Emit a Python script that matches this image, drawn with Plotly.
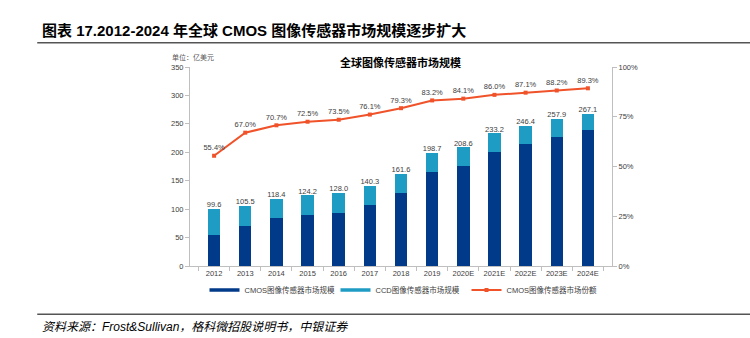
import plotly.graph_objects as go

years = ["2012", "2013", "2014", "2015", "2016", "2017", "2018", "2019",
         "2020E", "2021E", "2022E", "2023E", "2024E"]
cmos = [55.2, 70.7, 83.7, 90.0, 94.1, 106.8, 128.1, 165.3, 175.4, 200.6, 214.6, 227.5, 238.5]
ccd = [44.4, 34.8, 34.7, 34.2, 33.9, 33.5, 33.5, 33.4, 33.2, 32.6, 31.8, 30.4, 28.6]
totals = [99.6, 105.5, 118.4, 124.2, 128.0, 140.3, 161.6, 198.7, 208.6, 233.2, 246.4, 257.9, 267.1]
share = [55.4, 67.0, 70.7, 72.5, 73.5, 76.1, 79.3, 83.2, 84.1, 86.0, 87.1, 88.2, 89.3]
share_ticks = [0, 25, 50, 75, 100]

FONT = "Liberation Sans, Arial, Noto Sans CJK SC"
DARK = "#023A8A"
TEAL = "#1F9CC4"
ORANGE = "#F0522A"
TXT = "#404040"

fig = go.Figure()
fig.add_trace(go.Bar(x=years, y=cmos, name="CMOS图像传感器市场规模", showlegend=False,
                     marker=dict(color=DARK, line=dict(width=0)), width=0.4))
fig.add_trace(go.Bar(x=years, y=ccd, name="CCD图像传感器市场规模", showlegend=False,
                     marker=dict(color=TEAL, line=dict(width=0)), width=0.4))
fig.add_trace(go.Scatter(x=years, y=totals, mode="text",
                         text=[f"{v:.1f}" for v in totals], textposition="top center",
                         textfont=dict(size=7.5, color=TXT, family=FONT),
                         showlegend=False, hoverinfo="skip", cliponaxis=False))
fig.add_trace(go.Scatter(x=years, y=share, name="CMOS图像传感器市场份额", yaxis="y2",
                         mode="lines+markers+text", showlegend=False,
                         line=dict(color=ORANGE, width=2),
                         marker=dict(symbol="square", size=4, color=ORANGE),
                         text=[f"{v:.1f}%" for v in share], textposition="top center",
                         textfont=dict(size=7.5, color=TXT, family=FONT),
                         cliponaxis=False))
# legend entries
fig.add_trace(go.Scatter(x=[None], y=[None], mode="lines", name="CMOS图像传感器市场规模",
                         line=dict(color=DARK, width=3.5)))
fig.add_trace(go.Scatter(x=[None], y=[None], mode="lines", name="CCD图像传感器市场规模",
                         line=dict(color=TEAL, width=3.5)))
fig.add_trace(go.Scatter(x=[None], y=[None], mode="lines+markers", name="CMOS图像传感器市场份额",
                         line=dict(color=ORANGE, width=2),
                         marker=dict(symbol="square", size=4, color=ORANGE)))

fig.update_layout(
    width=750, height=338,
    margin=dict(l=190, r=138, t=67, b=72),
    paper_bgcolor="white", plot_bgcolor="white",
    barmode="stack", bargap=0.6,
    font=dict(family=FONT, size=7.5, color=TXT),
    showlegend=True,
    legend=dict(orientation="h", x=0.5, xanchor="center", y=-0.12, yanchor="middle",
                font=dict(size=7.5, color=TXT), itemwidth=30, traceorder="normal",
                entrywidth=86, entrywidthmode="pixels",
                bgcolor="rgba(0,0,0,0)"),
    xaxis=dict(type="category", showgrid=False, showline=True, linecolor="#BFBFBF", linewidth=1,
               ticks="outside", tickson="boundaries", ticklen=4, tickcolor="#BFBFBF",
               tickfont=dict(size=7.5, color=TXT)),
    yaxis=dict(range=[0, 350], dtick=50, showgrid=False, showline=True, linecolor="#BFBFBF",
               linewidth=1, ticks="outside", ticklen=4, tickcolor="#BFBFBF",
               tickfont=dict(size=7.5, color=TXT), zeroline=False),
    yaxis2=dict(range=[0, 100], tickmode="array", tickvals=share_ticks,
                ticktext=[f"{t}%" for t in share_ticks], overlaying="y",
                side="right", showgrid=False, showline=True, linecolor="#BFBFBF", linewidth=1,
                ticks="outside", ticklen=4, tickcolor="#BFBFBF",
                tickfont=dict(size=7.5, color=TXT), zeroline=False),
)

annotations = [
    dict(text="<b>图表 17.2012-2024 年全球 CMOS 图像传感器市场规模逐步扩大</b>",
         x=-0.355, y=1.185, xref="paper", yref="paper", xanchor="left", yanchor="middle",
         showarrow=False, font=dict(size=15, color="#000000", family=FONT)),
    dict(text="<b>全球图像传感器市场规模</b>", x=0.498, y=1.025, xref="paper", yref="paper",
         xanchor="center", yanchor="middle", showarrow=False,
         font=dict(size=11, color="#000000", family=FONT)),
    dict(text="单位：亿美元", x=-0.047, y=1.05, xref="paper", yref="paper",
         xanchor="left", yanchor="middle", showarrow=False,
         font=dict(size=7, color="#595959", family=FONT)),
    dict(text="<i>资料来源：Frost&Sullivan，格科微招股说明书，中银证券</i>",
         x=-0.355, y=-0.305, xref="paper", yref="paper", xanchor="left", yanchor="middle",
         showarrow=False, font=dict(size=12, color="#000000", family=FONT)),
]
fig.update_layout(annotations=annotations)

fig.add_shape(type="line", xref="paper", yref="paper", x0=-0.362, x1=1.33, y0=1.122, y1=1.122,
              line=dict(color="#555555", width=1.5))
fig.add_shape(type="line", xref="paper", yref="paper", x0=-0.362, x1=1.33, y0=-0.242, y1=-0.242,
              line=dict(color="#555555", width=1.5))

fig.write_html("out.html")
